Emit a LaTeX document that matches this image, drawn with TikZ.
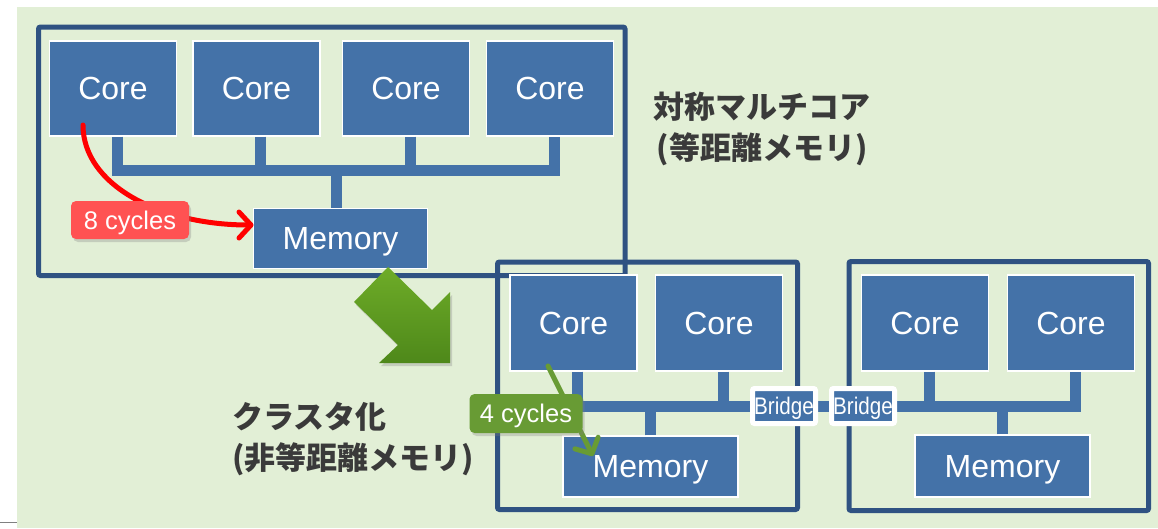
\documentclass[tikz,border=0pt]{standalone}
\usepackage{fontspec}
\setmainfont{Liberation Sans}
\newfontfamily\jpfont{Noto Sans CJK JP}
\usetikzlibrary{arrows.meta,shadows,calc}

\definecolor{bgGreen}{RGB}{226,239,214}
\definecolor{unitBlue}{RGB}{68,114,168}
\definecolor{frameBlue}{RGB}{47,82,130}
\definecolor{latRed}{RGB}{255,0,0}
\definecolor{tagRed}{RGB}{255,82,82}
\definecolor{tagGreen}{RGB}{104,155,52}
\definecolor{textGray}{RGB}{58,58,58}
\definecolor{bigArrowTop}{RGB}{110,172,40}
\definecolor{bigArrowBot}{RGB}{78,136,26}

\begin{document}
\begin{tikzpicture}[x=1pt,y=-1pt,
  unit/.style={fill=unitBlue,draw=white,line width=1.3pt,inner sep=0pt,outer sep=0pt,
    text=white,text depth=0pt,font=\fontsize{32}{38}\selectfont},
  corebox/.style={unit,minimum width=127pt,minimum height=95pt},
  membox/.style={unit,minimum width=174pt,minimum height=60pt},
  bridgebox/.style={fill=unitBlue,draw=white,line width=5pt,rounded corners=2pt,
    inner sep=0pt,minimum width=63pt,minimum height=35pt,text=white,text depth=0pt,
    font=\fontsize{24}{28}\selectfont},
  frame/.style={draw=frameBlue,line width=5pt,rounded corners=2pt},
  bus/.style={draw=unitBlue,line width=11pt,line join=miter},
  tag/.style={rounded corners=5pt,text=white,inner sep=0pt,text depth=0pt,
    font=\fontsize{25.5}{30}\selectfont,
    drop shadow={shadow xshift=2pt,shadow yshift=-3pt,opacity=0.3}},
  latency/.style={line width=5pt,line cap=round,
    -{Straight Barb[length=12pt,width=26pt,line cap=round,line join=round]}},
  caption/.style={text=textGray,font=\jpfont\bfseries\fontsize{31}{41}\selectfont,inner sep=0pt}
]
\useasboundingbox (0,0) rectangle (1158,528);
\fill[bgGreen] (17,7) rectangle (1158,528);
\coordinate (edgeL) at (0,522.5);
\coordinate (edgeR) at (17,522.5);
\draw[gray,line width=1.5pt] (edgeL) -- (edgeR);

% ---- clustered system: frames ----
\draw[frame] (497.5,262) rectangle (797.5,509.5);
\draw[frame] (849,261.5) rectangle (1148.5,510.5);

% ---- symmetric multicore ----
\draw[frame] (38.5,27) rectangle (625,275.5);
\node[corebox] (t1) at (113,88.5) {Core};
\node[corebox] (t2) at (256.5,88.5) {Core};
\node[corebox] (t3) at (406,88.5) {Core};
\node[corebox] (t4) at (550,88.5) {Core};
\node[membox] (tmem) at (340.5,238.5) {Memory};
\coordinate (tbus) at (336,170);
\coordinate (ts1) at ([xshift=4pt]t1.south);
\coordinate (ts2) at ([xshift=4pt]t2.south);
\coordinate (ts3) at ([xshift=4pt]t3.south);
\coordinate (ts4) at ([xshift=4pt]t4.south);
\coordinate (tms) at ([xshift=-4.5pt]tmem.north);
\draw[bus] ([yshift=-0.7pt]ts1) |- (tbus) -| ([yshift=-0.7pt]ts4);
\draw[bus] ([yshift=-0.7pt]ts2) -- (ts2 |- tbus);
\draw[bus] ([yshift=-0.7pt]ts3) -- (ts3 |- tbus);
\draw[bus] (tbus) -- ([yshift=0.7pt]tms);

% ---- cluster 1 ----
\node[corebox,minimum height=96pt] (a1) at (573.5,323) {Core};
\node[corebox,minimum height=96pt] (a2) at (719,323) {Core};
\node[membox,minimum width=175pt,minimum height=61pt] (amem) at (650.5,466.5) {Memory};

% ---- cluster 2 ----
\node[corebox,minimum height=96pt] (b1) at (925,323) {Core};
\node[corebox,minimum height=96pt] (b2) at (1071,323) {Core};
\node[membox,minimum width=175pt,minimum height=62pt] (bmem) at (1002.5,466) {Memory};

% ---- bridges and cluster buses ----
\coordinate (br1pos) at (784,406);
\coordinate (br2pos) at (863,406);
\coordinate (as1) at ([xshift=4pt]a1.south);
\coordinate (as2) at ([xshift=4pt]a2.south);
\coordinate (ams) at (amem.north);
\coordinate (bs1) at ([xshift=4pt]b1.south);
\coordinate (bs2) at ([xshift=4pt]b2.south);
\coordinate (bms) at (bmem.north);
\draw[bus] ([yshift=-0.7pt]as1) |- (br1pos);
\draw[bus] ([yshift=-0.7pt]as2) -- (as2 |- br1pos);
\draw[bus] ([yshift=0.7pt]ams) -- (ams |- br1pos);
\draw[bus] (br1pos) -- (br2pos);
\draw[bus] (br2pos) -| ([yshift=-0.7pt]bs2);
\draw[bus] ([yshift=-0.7pt]bs1) -- (bs1 |- br2pos);
\draw[bus] ([yshift=0.7pt]bms) -- (bms |- br2pos);
\node[bridgebox] (br1) at (br1pos) {\scalebox{0.86}[1]{Bridge}};
\node[bridgebox] (br2) at (br2pos) {\scalebox{0.86}[1]{Bridge}};

% ---- transition arrow ----
\path[top color=bigArrowTop,bottom color=bigArrowBot,
  drop shadow={shadow xshift=2pt,shadow yshift=-3pt,opacity=0.3}]
  (388,267) -- (354,302) -- (398,345) -- (379,363) -- (450,363)
  -- (450,292) -- (432,310) -- cycle;

% ---- access latencies ----
\coordinate (redFrom) at ($(t1.south)+(-30,-11)$);
\coordinate (redTo) at ([yshift=13.5pt]tmem.west);
\draw[latency,latRed] (redFrom) .. controls (83,185) and (160,225) .. (redTo);
\node[tag,fill=tagRed,minimum width=118pt,minimum height=38pt] (lat8) at (130,220) {8 cycles};

\coordinate (greenFrom) at ($(a1.south)+(-25.5,-5)$);
\coordinate (greenTo) at ($(amem.north west)+(30,20)$);
\draw[latency,tagGreen] (greenFrom) -- (greenTo);
\node[tag,fill=tagGreen,minimum width=113pt,minimum height=39pt] (lat4) at (526,413.5) {4 cycles};

% ---- captions ----
\node[caption,align=center] (capSym) at (762,128.5) {対称マルチコア\\(等距離メモリ)};
\node[caption,align=left,anchor=west] (capClu) at (232,439) {クラスタ化\\(非等距離メモリ)};
\end{tikzpicture}
\end{document}
